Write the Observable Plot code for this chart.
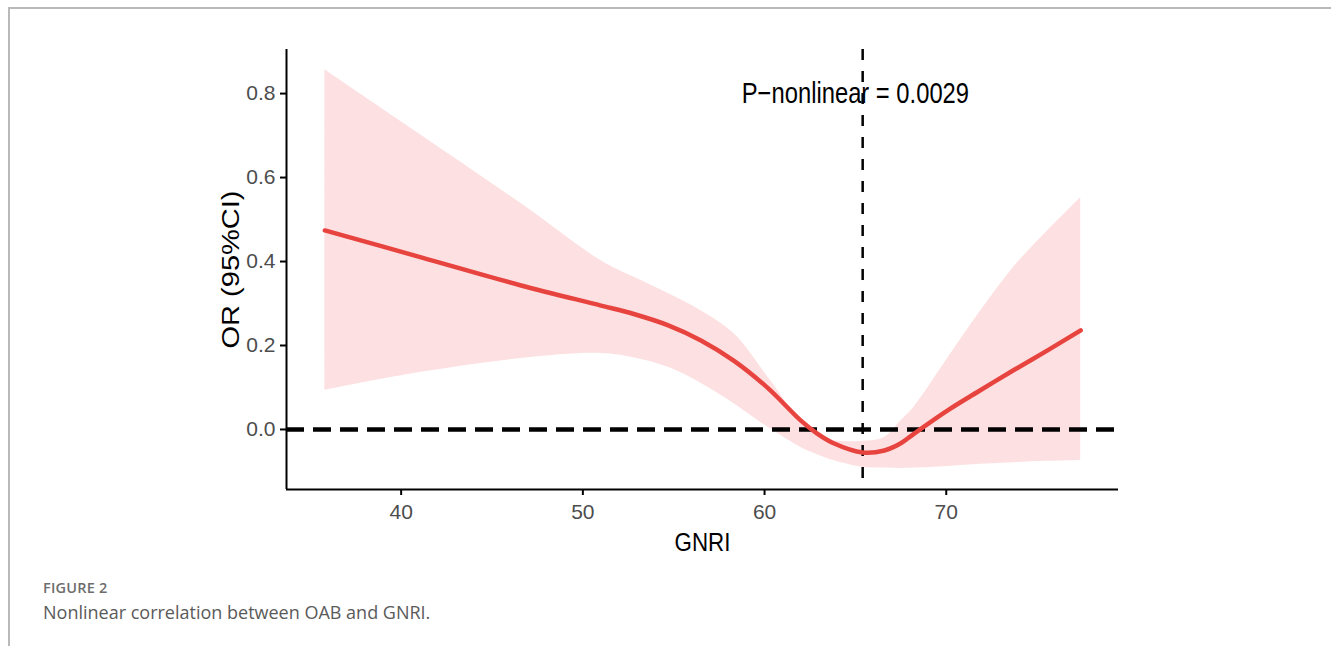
<!DOCTYPE html>
<html>
<head>
<meta charset="utf-8">
<script src="https://cdn.jsdelivr.net/npm/d3@7"></script>
<script src="https://cdn.jsdelivr.net/npm/@observablehq/plot@0.6"></script>
<style>
  html, body { margin: 0; padding: 0; background: #ffffff; width: 1331px; height: 646px; overflow: hidden; }
  #frame { position: absolute; left: 8px; top: 7px; width: 1340px; height: 660px; border-top: 2px solid #b9b9b9; border-left: 2px solid #b9b9b9; }
  #chart { position: absolute; left: 0; top: 0; }
  .fig { position: absolute; left: 43px; font-family: "Open Sans", "Noto Sans", sans-serif; line-height: 1; white-space: nowrap; }
  #figlabel { top: 581px; font-size: 14.5px; font-weight: 600; color: #6d6d6d; letter-spacing: 0.2px; }
  #figcaption { top: 603px; font-size: 18px; font-weight: 400; color: #5a5a5a; }
</style>
</head>
<body>
<div id="frame"></div>
<div id="chart"></div>
<div class="fig" id="figlabel">FIGURE 2</div>
<div class="fig" id="figcaption">Nonlinear correlation between OAB and GNRI.</div>
<script>
// ---- data ----
const gnri    = [35.8, 41.1, 46.6, 51.0, 52.8, 54.7, 56.5, 58.3, 60.2, 62.0, 62.9, 63.8, 65.4, 66.6, 67.5, 68.2, 70.1, 71.9, 73.7, 75.6, 77.4];
const orEst   = [0.474, 0.410, 0.343, 0.295, 0.275, 0.248, 0.212, 0.164, 0.098, 0.021, -0.010, -0.033, -0.055, -0.050, -0.033, -0.011, 0.046, 0.094, 0.141, 0.189, 0.236];
const ciLower = [0.093, 0.136, 0.169, 0.181, 0.171, 0.148, 0.110, 0.062, 0.005, -0.043, -0.060, -0.074, -0.090, -0.092, -0.093, -0.092, -0.088, -0.083, -0.079, -0.076, -0.074];
const ciUpper = [0.857, 0.701, 0.538, 0.402, 0.363, 0.324, 0.283, 0.229, 0.124, 0.021, -0.007, -0.026, -0.028, -0.019, 0.021, 0.052, 0.171, 0.283, 0.386, 0.474, 0.552];
const xTicks = [40, 50, 60, 70];
const yTicks = [0.0, 0.2, 0.4, 0.6, 0.8];
const refLineX = [65.4];
const refLineY = [0];
const xDomain = [33.69, 79.48];
const yDomain = [-0.143, 0.905];
const annotation = ["P\u2212nonlinear = 0.0029"];
const annotX = [65.0];
const annotY = [0.80];
const xTitle = "GNRI";
const yTitle = "OR (95%CI)";

const rows = gnri.map((x, i) => ({x, or: orEst[i], lo: ciLower[i], hi: ciUpper[i]}));
const font = "'Liberation Sans', Arial, Helvetica, sans-serif";

const chart = Plot.plot({
  width: 1331,
  height: 560,
  marginLeft: 286,
  marginRight: 213,
  marginTop: 49,
  marginBottom: 71,
  x: {domain: xDomain},
  y: {domain: yDomain},
  style: {fontFamily: font, background: "transparent", overflow: "visible"},
  marks: [
    Plot.areaY(rows, {x: "x", y1: "lo", y2: "hi", fill: "#fde1e2", curve: "catmull-rom"}),
    Plot.ruleY(refLineY, {stroke: "#000", strokeWidth: 4.5, strokeDasharray: "18,9"}),
    Plot.ruleX(refLineX, {stroke: "#000", strokeWidth: 2.5, strokeDasharray: "11,11"}),
    Plot.line(rows, {x: "x", y: "or", stroke: "#e8443f", strokeWidth: 4.5, curve: "catmull-rom"}),
    Plot.text(annotation, {x: annotX, y: annotY, text: d => d, fontSize: 29, fill: "#000", textAnchor: "middle", lineAnchor: "middle"}),
    Plot.ruleY([yDomain[0]], {stroke: "#000", strokeWidth: 2}),
    Plot.ruleX([xDomain[0]], {stroke: "#000", strokeWidth: 2}),
    Plot.axisX({ticks: xTicks, tickFormat: d => String(d), tickSize: 6, tickPadding: 9, stroke: "#000", strokeWidth: 2, fill: "#4d4d4d", fontSize: 21, label: null}),
    Plot.axisY({ticks: yTicks, tickFormat: d => d.toFixed(1), tickSize: 6, tickPadding: 5, stroke: "#000", strokeWidth: 2, fill: "#4d4d4d", fontSize: 21, label: null}),
    Plot.text([xTitle], {frameAnchor: "bottom", dy: 53, text: d => d, fontSize: 26, fill: "#000", textAnchor: "middle", lineAnchor: "middle"}),
    Plot.text([yTitle], {frameAnchor: "left", dx: -54.5, dy: 0, rotate: -90, text: d => d, fontSize: 29, fill: "#000", textAnchor: "middle", lineAnchor: "middle"})
  ]
});

// the reference's lettering is condensed (Helvetica squeezed): apply the same aspect to the titles
const squeeze = new Map([[annotation[0], [0.82, 1]], [xTitle, [0.86, 1]], [yTitle, [1, 0.8]]]);
for (const t of chart.querySelectorAll("text")) {
  const s = squeeze.get(t.textContent);
  if (!s) continue;
  const tr = t.getAttribute("transform");
  if (tr) t.setAttribute("transform", `${tr} scale(${s[0]},${s[1]})`);
  else {
    const x = +t.getAttribute("x") || 0, y = +t.getAttribute("y") || 0;
    t.setAttribute("transform", `translate(${x},${y}) scale(${s[0]},${s[1]}) translate(${-x},${-y})`);
  }
}
document.getElementById("chart").appendChild(chart);
</script>
</body>
</html>
